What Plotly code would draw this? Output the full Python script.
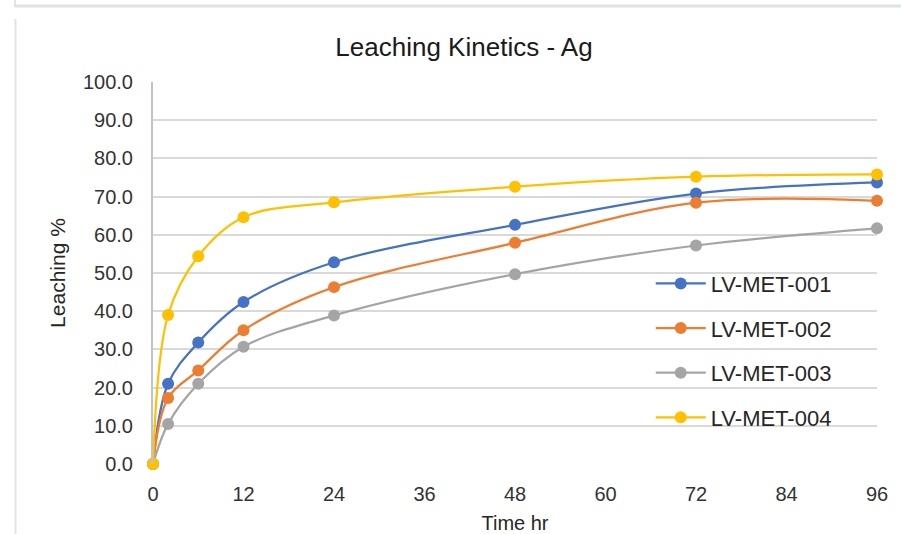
import plotly.graph_objects as go

time_hr = [0, 2, 6, 12, 24, 48, 72, 96]
met001 = [0.0, 21.0, 31.8, 42.4, 52.8, 62.6, 70.8, 73.7]
met002 = [0.0, 17.3, 24.5, 35.0, 46.3, 57.9, 68.4, 68.9]
met003 = [0.0, 10.5, 21.0, 30.7, 38.9, 49.7, 57.2, 61.7]
met004 = [0.0, 39.0, 54.4, 64.6, 68.5, 72.6, 75.2, 75.8]
series_names = ["LV-MET-001", "LV-MET-002", "LV-MET-003", "LV-MET-004"]
series_values = [met001, met002, met003, met004]
colors = ["#4472C4", "#ED7D31", "#A5A5A5", "#FFC000"]
x_ticks = [0, 12, 24, 36, 48, 60, 72, 84, 96]
y_ticks = [0, 10, 20, 30, 40, 50, 60, 70, 80, 90, 100]

FONT = "Liberation Sans, Arial, sans-serif"

fig = go.Figure()
for name, vals, col in zip(series_names, series_values, colors):
    fig.add_trace(go.Scatter(
        x=time_hr, y=vals, name=name, legendgroup=name,
        mode="lines+markers",
        line=dict(color=col, width=2.25, shape="spline", smoothing=1.0),
        marker=dict(color=col, size=12),
        cliponaxis=False,
    ))

fig.update_layout(
    width=901, height=534,
    paper_bgcolor="white", plot_bgcolor="white",
    margin=dict(l=153, r=24, t=82, b=70),
    title=dict(text="Leaching Kinetics - Ag", x=464/901, xref="container", xanchor="center",
               y=1-47/534, yref="container", yanchor="middle",
               font=dict(family=FONT, size=26, color="#1a1a1a")),
    showlegend=True,
    legend=dict(x=0.6875, y=0.527, xanchor="left", yanchor="top",
                font=dict(family=FONT, size=22, color="#262626"),
                bgcolor="rgba(0,0,0,0)", tracegroupgap=13, itemwidth=50),
    font=dict(family=FONT),
)
fig.update_xaxes(
    range=[0, 96], tickvals=x_ticks, ticktext=[str(v) for v in x_ticks],
    showgrid=False, zeroline=False, showline=False, ticks="", automargin=False,
    ticklabelstandoff=16,
    tickfont=dict(family=FONT, size=20, color="#333333"),
    title=dict(text="Time hr", font=dict(family=FONT, size=20, color="#262626"), standoff=14),
)
fig.update_yaxes(
    range=[0, 100], tickvals=y_ticks, ticktext=["%.1f" % v for v in y_ticks],
    showgrid=True, gridcolor="#D9D9D9", gridwidth=1.5, zeroline=False,
    showline=True, linecolor="#BCC3CF", linewidth=2, ticks="", automargin=False,
    ticklabelstandoff=14,
    tickfont=dict(family=FONT, size=20, color="#333333"),
    title=dict(text="Leaching %", font=dict(family=FONT, size=21, color="#262626"), standoff=12),
)

# outer chart-frame edges visible in the screenshot
fig.add_shape(type="line", xref="paper", yref="paper",
              x0=(15-153)/724, x1=(901-153)/724, y0=(464-6)/382, y1=(464-6)/382,
              line=dict(color="#DDE1E8", width=3))
fig.add_shape(type="line", xref="paper", yref="paper",
              x0=(15-153)/724, x1=(15-153)/724, y0=(464-0)/382, y1=(464-7)/382,
              line=dict(color="#DDE1E8", width=2))
fig.add_shape(type="line", xref="paper", yref="paper",
              x0=(15.5-153)/724, x1=(15.5-153)/724, y0=(464-19)/382, y1=(464-534)/382,
              line=dict(color="#E3E3E3", width=2))

fig.write_html("out.html", config={"displayModeBar": False},
               post_script="document.body.style.margin='0px';")
